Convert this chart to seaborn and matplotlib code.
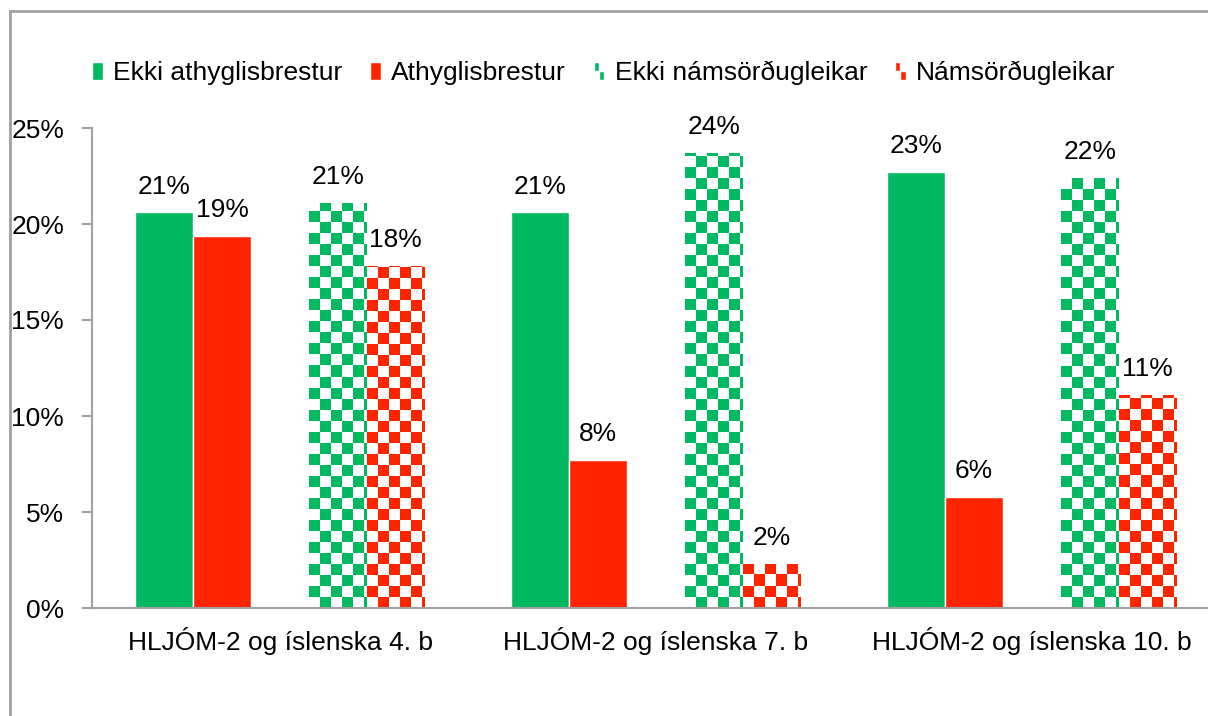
import numpy as np
import pandas as pd
import matplotlib
matplotlib.use("Agg")
import matplotlib.pyplot as plt
from matplotlib.colors import ListedColormap
from matplotlib.patches import Rectangle
from matplotlib.legend_handler import HandlerBase
from matplotlib.ticker import PercentFormatter
import seaborn as sns

groups = ["HLJÓM-2 og íslenska 4. b", "HLJÓM-2 og íslenska 7. b", "HLJÓM-2 og íslenska 10. b"]
series = ["Ekki athyglisbrestur", "Athyglisbrestur", "Ekki námsörðugleikar", "Námsörðugleikar"]
ekki_athygli = [0.206, 0.206, 0.227]
athygli = [0.194, 0.077, 0.058]
ekki_nams = [0.211, 0.237, 0.224]
nams = [0.178, 0.023, 0.111]

GREEN = "#00B960"
RED = "#FF2400"
GRAY = "#A0A0A0"
FS = 19
colors = {series[0]: GREEN, series[1]: RED, series[2]: GREEN, series[3]: RED, " ": "white"}

df = pd.DataFrame({
    "group": groups * 4,
    "series": np.repeat(series, 3),
    "value": ekki_athygli + athygli + ekki_nams + nams,
})

sns.set_style("white")
plt.rcParams["font.family"] = ["Liberation Sans", "DejaVu Sans"]
plt.rcParams["font.size"] = FS
plt.rcParams["text.color"] = "black"

fig = plt.figure(figsize=(12.08, 7.16), dpi=100)
ax = fig.add_axes([92 / 1208, 108 / 716, 1128 / 1208, 480 / 716])

# blank hue level gives the gap between the two pairs
hue_order = [series[0], series[1], " ", series[2], series[3]]
sns.barplot(data=df, x="group", y="value", hue="series", hue_order=hue_order,
            order=groups, palette=colors, width=0.77, saturation=1,
            legend=False, ax=ax, errorbar=None)

# checkerboard fill for the námsörðugleikar bars
cell_x = 11 / 376
cell_y = 11 / 1920
conts = [c for c in ax.containers if len(c.patches) > 0]
for cont, label in zip(conts, series):
    ax.bar_label(cont, labels=[f"{v:.0%}" for v in cont.datavalues], padding=10,
                 fontsize=FS, color="black")
    if label not in series[2:]:
        continue
    col = colors[label]
    for p in cont.patches:
        x0, y0 = p.get_x(), p.get_y()
        w, h = p.get_width(), p.get_height()
        nc = int(np.ceil(w / cell_x))
        nr = int(np.ceil(h / cell_y))
        board = (np.add.outer(np.arange(nr), np.arange(nc)) % 2).astype(float)
        p.set_facecolor("white")
        im = ax.imshow(board, cmap=ListedColormap(["white", col]), origin="lower",
                       extent=[x0, x0 + nc * cell_x, y0, y0 + nr * cell_y],
                       aspect="auto", interpolation="nearest", zorder=p.get_zorder() + 0.1)
        im.set_clip_path(p)

ax.set_xlim(-0.5, 2.5)
ax.set_ylim(0, 0.25)
ax.set_yticks(np.arange(0, 0.26, 0.05))
ax.yaxis.set_major_formatter(PercentFormatter(1, decimals=0))
ax.set_xlabel("")
ax.set_ylabel("")
ax.set_xticks([0.5, 1.5], minor=True)
ax.tick_params(axis="x", which="major", length=0, pad=14, labelsize=FS, labelcolor="black")
ax.tick_params(axis="x", which="minor", length=6, width=1.5, color=GRAY, direction="out")
ax.tick_params(axis="y", length=7, width=1.5, color=GRAY, pad=13, labelsize=FS,
               left=True, labelcolor="black")
for s in ["top", "right"]:
    ax.spines[s].set_visible(False)
for s in ["left", "bottom"]:
    ax.spines[s].set_color(GRAY)
    ax.spines[s].set_linewidth(1.5)


class CheckerHandler(HandlerBase):
    def __init__(self, color):
        super().__init__()
        self.color = color

    def create_artists(self, legend, orig_handle, xdescent, ydescent, width, height, fontsize, trans):
        hw, hh = width / 2, height / 2
        a = Rectangle((-xdescent, -ydescent + hh), hw, hh, facecolor=self.color, transform=trans)
        b = Rectangle((-xdescent + hw, -ydescent), hw, hh, facecolor=self.color, transform=trans)
        return [a, b]


handles = [Rectangle((0, 0), 1, 1, facecolor=GREEN), Rectangle((0, 0), 1, 1, facecolor=RED),
           Rectangle((0, 0), 1, 1, facecolor="none"), Rectangle((0, 0), 1, 1, facecolor="none")]
fig.legend(handles, series, ncol=4, loc="center left", bbox_to_anchor=(92 / 1208, 1 - 73 / 716),
           frameon=False, fontsize=FS, handlelength=0.4, handleheight=0.65, handletextpad=0.4,
           columnspacing=1.05, borderaxespad=0, borderpad=0,
           handler_map={handles[2]: CheckerHandler(GREEN), handles[3]: CheckerHandler(RED)})

# outer chart frame
fig.patches.append(Rectangle((10 / 1208, -0.05), 1.1, 1 - 11 / 716 + 0.05, transform=fig.transFigure,
                             fill=False, edgecolor=GRAY, linewidth=2))

fig.savefig("out.png", dpi=100)
